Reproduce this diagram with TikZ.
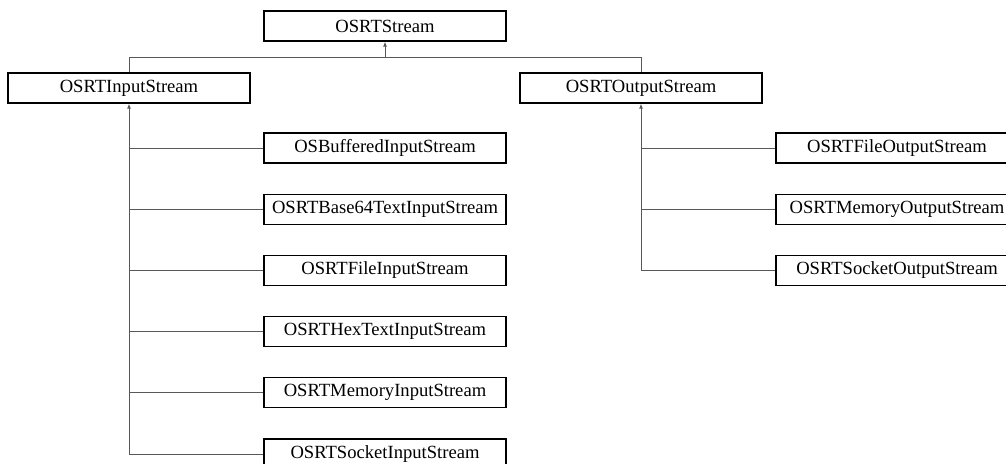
\documentclass[tikz,border=0pt]{standalone}
\usepackage{fontspec}
\setmainfont{Liberation Serif}
\usetikzlibrary{positioning,arrows.meta}
\tikzset{
  cls/.style={draw, line width=1.2pt, fill=white, minimum width=242pt, minimum height=30pt, inner sep=0pt, text centered, font=\fontsize{18.6}{20}\selectfont},
  inh/.style={draw=black!65, line width=1pt},
  inharr/.style={inh, -{Latex[length=5pt,width=4pt]}}
}

\begin{document}
\begin{tikzpicture}[x=1pt,y=1pt]
  \useasboundingbox (0,0) rectangle (1006,-463);
  \clip (0,0) rectangle (1006,-463);
  % base classes
  \node[cls] (stream) at (385,-26) {OSRTStream};
  \node[cls] (istream) at (129,-88) {OSRTInputStream};
  \node[cls] (ostream) at (641,-88) {OSRTOutputStream};
  % input streams
  \node[cls] (buffered) at (385,-148) {OSBufferedInputStream};
  \node[cls, below=30pt of buffered] (base64) {OSRTBase64TextInputStream};
  \node[cls, below=30pt of base64] (filein) {OSRTFileInputStream};
  \node[cls, below=30pt of filein] (hexin) {OSRTHexTextInputStream};
  \node[cls, below=30pt of hexin] (memin) {OSRTMemoryInputStream};
  \node[cls, below=30pt of memin] (sockin) {OSRTSocketInputStream};
  % output streams
  \node[cls] (fileout) at (897,-148) {OSRTFileOutputStream};
  \node[cls, below=30pt of fileout] (memout) {OSRTMemoryOutputStream};
  \node[cls, below=30pt of memout] (sockout) {OSRTSocketOutputStream};
  % inheritance
  \coordinate (bus) at (385,-57);
  \draw[inh] (istream.north) -- (istream.north |- bus) -- (ostream.north |- bus) -- (ostream.north);
  \draw[inharr] (stream.south |- bus) -- (stream.south);
  \draw[inharr] (istream.south |- sockin.west) -- (istream.south);
  \foreach \c in {buffered,base64,filein,hexin,memin,sockin}
    \draw[inh] (istream.south |- \c.west) -- (\c.west);
  \draw[inharr] (ostream.south |- sockout.west) -- (ostream.south);
  \foreach \c in {fileout,memout,sockout}
    \draw[inh] (ostream.south |- \c.west) -- (\c.west);
\end{tikzpicture}
\end{document}
